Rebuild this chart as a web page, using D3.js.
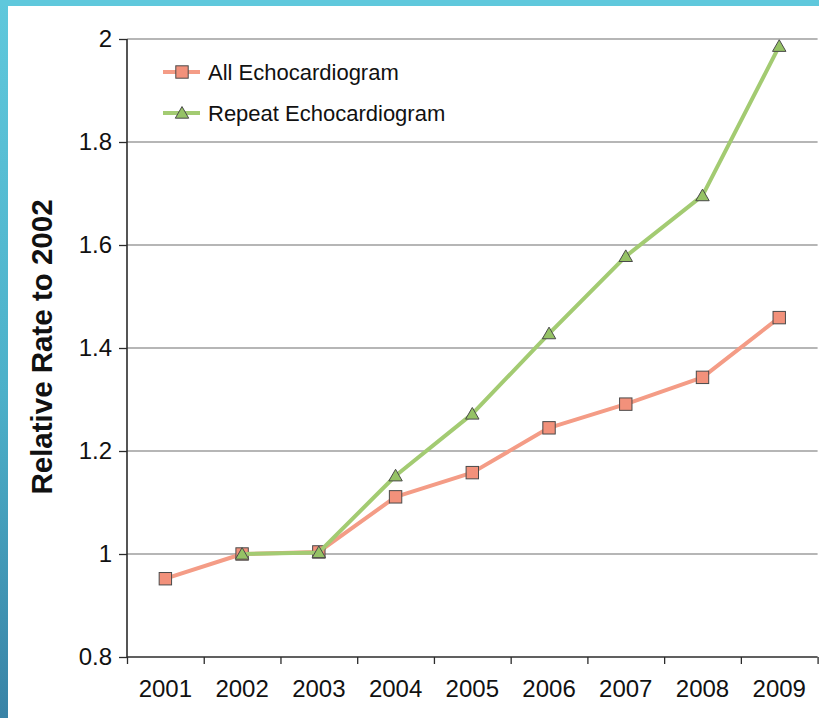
<!DOCTYPE html>
<html>
<head>
<meta charset="utf-8">
<script src="https://cdn.jsdelivr.net/npm/d3@7"></script>
<style>
  html, body { margin: 0; padding: 0; background: #fff; }
  svg { display: block; font-family: "Liberation Sans", Arial, Helvetica, sans-serif; }
</style>
</head>
<body>
<svg id="chart" width="819" height="718"></svg>
<script>
// Years on the horizontal axis
const years = ["2001", "2002", "2003", "2004", "2005", "2006", "2007", "2008", "2009"];
// Relative rate (2002 = 1) for all echocardiograms
const allEcho = [0.952, 1.0, 1.004, 1.111, 1.158, 1.245, 1.291, 1.343, 1.459];
// Relative rate for repeat echocardiograms (no value for 2001)
const repeatEcho = [null, 1.0, 1.003, 1.152, 1.272, 1.428, 1.578, 1.696, 1.986];
// Value-axis ticks and their labels
const yTicks = [0.8, 1.0, 1.2, 1.4, 1.6, 1.8, 2.0];
const yTickLabels = ["0.8", "1", "1.2", "1.4", "1.6", "1.8", "2"];
const seriesNames = ["All Echocardiogram", "Repeat Echocardiogram"];

const svg = d3.select("#chart");

// Slide frame: cyan band along the top, gradient band down the left side
const defs = svg.append("defs");
const grad = defs.append("linearGradient")
  .attr("id", "sideBand").attr("x1", 0).attr("y1", 0).attr("x2", 0).attr("y2", 1);
grad.append("stop").attr("offset", "0%").attr("stop-color", "#5fc8dc");
grad.append("stop").attr("offset", "55%").attr("stop-color", "#4cb0c9");
grad.append("stop").attr("offset", "100%").attr("stop-color", "#3983a6");
svg.append("rect").attr("x", 0).attr("y", 0).attr("width", 8).attr("height", 718).attr("fill", "url(#sideBand)");
svg.append("rect").attr("x", 0).attr("y", 0).attr("width", 819).attr("height", 6).attr("fill", "#5fc8dc");

const plotLeft = 127, plotRight = 817.6, plotTop = 39, plotBottom = 657;

const x = d3.scaleBand().domain(years).range([plotLeft, plotRight]).padding(0);
const xEdges = d3.scaleLinear().domain([0, years.length]).range([plotLeft, plotRight]);
const y = d3.scaleLinear().domain([0.8, 2.0]).range([plotBottom, plotTop]);

// Horizontal gridlines
svg.append("g")
  .selectAll("line")
  .data(yTicks.slice(1))
  .join("line")
  .attr("x1", plotLeft).attr("x2", plotRight)
  .attr("y1", d => y(d)).attr("y2", d => y(d))
  .attr("stroke", "#6f6f6f").attr("stroke-width", 1.1);

// Value axis
const yAxis = svg.append("g")
  .attr("transform", `translate(${plotLeft},0)`)
  .call(d3.axisLeft(y).tickValues(yTicks).tickSize(8).tickPadding(7)
    .tickFormat((d, i) => yTickLabels[i]));
yAxis.select(".domain").attr("stroke", "#2b2b2b").attr("stroke-width", 1.6)
  .attr("d", `M0,${plotTop}V${plotBottom}`);
yAxis.selectAll(".tick line").attr("stroke", "#2b2b2b").attr("stroke-width", 1.3);
yAxis.selectAll(".tick text").attr("font-size", 24).attr("fill", "#111")
  .attr("font-family", "'Liberation Sans', Arial, Helvetica, sans-serif");

// Category axis: tick marks on category boundaries, labels centred in each band
const xTicks = svg.append("g")
  .attr("transform", `translate(0,${plotBottom})`)
  .call(d3.axisBottom(xEdges).tickValues(d3.range(years.length + 1)).tickSize(7).tickFormat(""));
xTicks.select(".domain").attr("stroke", "#2b2b2b").attr("stroke-width", 1.6)
  .attr("d", `M${plotLeft},0H${plotRight}`);
xTicks.selectAll(".tick line").attr("stroke", "#2b2b2b").attr("stroke-width", 1.3);

const xAxis = svg.append("g")
  .attr("transform", `translate(0,${plotBottom})`)
  .call(d3.axisBottom(x).tickSize(0).tickPadding(23));
xAxis.select(".domain").remove();
xAxis.selectAll(".tick text").attr("font-size", 24).attr("fill", "#111")
  .attr("font-family", "'Liberation Sans', Arial, Helvetica, sans-serif");

// Axis title
svg.append("text")
  .attr("transform", "translate(52,347) rotate(-90)")
  .attr("text-anchor", "middle")
  .attr("font-size", 29.5).attr("font-weight", "bold").attr("fill", "#111")
  .text("Relative Rate to 2002");

const cx = d => x(d) + x.bandwidth() / 2;
const lineGen = d3.line()
  .defined(d => d.v != null)
  .x(d => cx(d.year))
  .y(d => y(d.v));

const allData = years.map((year, i) => ({ year, v: allEcho[i] }));
const repData = years.map((year, i) => ({ year, v: repeatEcho[i] }));

const salmonLine = "#f49c86", salmonFill = "#f2917b";
const greenLine = "#a3cb72", greenFill = "#95c265";
const markerStroke = "#4a4a4a";

const tri = d3.symbol().type(d3.symbolTriangle).size(78);

function squareMarker(g, px, py) {
  g.append("rect")
    .attr("x", px - 6.2).attr("y", py - 6.2).attr("width", 12.4).attr("height", 12.4)
    .attr("fill", salmonFill).attr("stroke", markerStroke).attr("stroke-width", 1);
}
function triMarker(g, px, py) {
  g.append("path")
    .attr("d", tri())
    .attr("transform", `translate(${px},${py + 1.3})`)
    .attr("fill", greenFill).attr("stroke", markerStroke).attr("stroke-width", 1);
}

// All echocardiogram series
const gAll = svg.append("g");
gAll.append("path").datum(allData).attr("d", lineGen)
  .attr("fill", "none").attr("stroke", salmonLine).attr("stroke-width", 4)
  .attr("stroke-linejoin", "round");
allData.filter(d => d.v != null).forEach(d => squareMarker(gAll, cx(d.year), y(d.v)));

// Repeat echocardiogram series
const gRep = svg.append("g");
gRep.append("path").datum(repData).attr("d", lineGen)
  .attr("fill", "none").attr("stroke", greenLine).attr("stroke-width", 4)
  .attr("stroke-linejoin", "round");
repData.filter(d => d.v != null).forEach(d => triMarker(gRep, cx(d.year), y(d.v)));

// Legend
const legend = svg.append("g");
const legendRows = [
  { name: seriesNames[0], color: salmonLine, marker: squareMarker, yy: 72 },
  { name: seriesNames[1], color: greenLine, marker: triMarker, yy: 113 }
];
legendRows.forEach(r => {
  legend.append("line").attr("x1", 163).attr("x2", 200).attr("y1", r.yy).attr("y2", r.yy)
    .attr("stroke", r.color).attr("stroke-width", 4);
  r.marker(legend, 182, r.yy);
  legend.append("text").attr("x", 208).attr("y", r.yy).attr("dy", "0.35em")
    .attr("font-size", 22).attr("fill", "#111").text(r.name);
});
</script>
</body>
</html>
